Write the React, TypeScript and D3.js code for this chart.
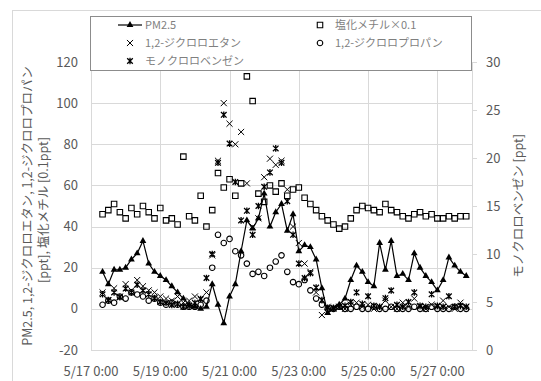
import { useEffect, useRef } from 'react';
import * as d3 from 'd3';

// 4-hourly samples, first one at 5/17 8:00
const startTime = new Date(2019, 4, 17, 8, 0);
const stepHours = 4;

const pm25 = [18, 12, 19, 19, 20, 24, 27, 33, 22, 18, 16, 14, 11, 8, 5, 2, 1, 0, 1, 12, 2, -7, 6, 12, 28, 43, 39, 44, 56, 40, 47, 51,
  38, 46, 28, 31, 30, 24, 10, -2, 0, 2, 5, 14, 21, 18, 13, 11, 32, 19, 33, 16, 17, 14, 27, 20, 16, 13, 9, 14, 25, 21, 18, 16];
const methylChloride = [46, 48, 51, 47, 44, 49, 46, 50, 47, 44, 49, 43, 44, 41, 74, 45, 43, 55, 40, 48, 66, 59, 63, 55, 61, 113, 101, 56, 52, 60, 57, 61,
  55, 58, 59, 54, 51, 48, 45, 43, 41, 39, 40, 44, 48, 50, 49, 48, 47, 51, 48, 47, 45, 44, 46, 47, 45, 46, 44, 44, 45, 44, 45, 45];
const dichloroethane = [8, 4, 10, 6, 12, 9, 14, 11, 9, 8, 6, 5, 4, 6, 3, 4, 6, 5, 8, 26, 72, 100, 90, 80, 86, 61, 40, 44, 64, 73, 70, 72,
  58, 40, 32, 22, 18, 8, -3, 1, 0, 1, 0, 2, 3, 1, 2, 0, 1, 4, 1, 0, 3, 1, 5, 1, 0, 2, 1, 4, 1, 0, 3, 1];
const dichloropropane = [2, 4, 3, 6, 5, 8, 7, 6, 4, 5, 3, 2, 3, 2, 1, 1, 1, 2, 4, 20, 36, 32, 34, 28, 26, 22, 17, 18, 16, 20, 23, 26,
  18, 13, 12, 14, 9, 5, 2, 0, 0, 1, 0, 0, 1, 0, 0, 1, 0, 0, 1, 0, 0, 0, 1, 0, 0, 1, 0, 0, 0, 1, 0, 0];
const chlorobenzene = [5.8, 5.2, 6.0, 5.5, 6.4, 6.0, 6.8, 6.2, 5.8, 5.4, 5.0, 4.9, 4.7, 4.8, 4.5, 4.6, 4.9, 5.3, 7.5, 10.0, 19.5, 24.5, 21.5, 17.5,
  13.5, 14.5, 12.0, 15.0, 17.0, 18.5, 21.0, 19.5, 15.5, 12.0, 9.0, 7.5, 8.0, 6.5, 5.2, 4.4, 4.4, 4.5, 4.6, 5.0, 6.0, 4.8, 5.6, 4.6,
  4.5, 5.4, 6.2, 4.7, 4.5, 5.0, 6.0, 4.6, 4.5, 5.8, 4.6, 4.5, 5.6, 4.5, 4.6, 4.5];

const leftTicks = [-20, 0, 20, 40, 60, 80, 100, 120];
const rightTicks = [0, 5, 10, 15, 20, 25, 30];
const xTickDays = [17, 19, 21, 23, 25, 27];

const FONT = '"Noto Sans CJK JP", "Noto Sans", sans-serif';
const TEXT = '#595959';
const LEGEND_TEXT = '#7f7f7f';
const GRID = '#d9d9d9';

const starPath = 'M-2.8,-2.8L2.8,2.8M-2.8,2.8L2.8,-2.8M0,-3.3L0,3.3';

function App() {
  const ref = useRef<SVGSVGElement>(null);

  useEffect(() => {
    const svg = d3.select(ref.current);
    svg.selectAll('*').remove();

    const left = 91, right = 472, top = 62, bottom = 350;
    const times = pm25.map((_, i) => new Date(startTime.getTime() + i * stepHours * 3600 * 1000));

    const x = d3.scaleTime()
      .domain([new Date(2019, 4, 17), new Date(2019, 4, 28)])
      .range([left, right]);
    const y = d3.scaleLinear().domain([-20, 120]).range([bottom, top]);
    const y2 = d3.scaleLinear().domain([0, 30]).range([bottom, top]);

    // chart area frame
    svg.append('rect')
      .attr('x', 12.5).attr('y', 10.5).attr('width', 560).attr('height', 400)
      .attr('fill', 'white').attr('stroke', GRID);

    const g = svg.append('g').attr('font-family', FONT);

    // gridlines
    g.append('g').selectAll('line').data(leftTicks.filter((t) => t !== -20)).enter()
      .append('line')
      .attr('x1', left).attr('x2', right)
      .attr('y1', (d) => Math.round(y(d)) + 0.5).attr('y2', (d) => Math.round(y(d)) + 0.5)
      .attr('stroke', GRID);
    g.append('g').selectAll('line').data(xTickDays).enter()
      .append('line')
      .attr('x1', (d) => Math.round(x(new Date(2019, 4, d))) + 0.5)
      .attr('x2', (d) => Math.round(x(new Date(2019, 4, d))) + 0.5)
      .attr('y1', top).attr('y2', bottom)
      .attr('stroke', GRID);
    g.append('line').attr('x1', right + 0.5).attr('x2', right + 0.5).attr('y1', top).attr('y2', bottom).attr('stroke', GRID);
    g.append('line').attr('x1', left).attr('x2', right).attr('y1', bottom + 0.5).attr('y2', bottom + 0.5).attr('stroke', GRID);

    // left axis labels
    g.append('g').selectAll('text').data(leftTicks).enter()
      .append('text')
      .attr('x', 78).attr('y', (d) => y(d)).attr('dy', '0.35em')
      .attr('text-anchor', 'end').attr('font-size', 13).attr('fill', TEXT)
      .text((d) => d);

    // right axis ticks + labels
    g.append('g').selectAll('line').data(rightTicks).enter()
      .append('line')
      .attr('x1', right).attr('x2', right + 5)
      .attr('y1', (d) => Math.round(y2(d)) + 0.5).attr('y2', (d) => Math.round(y2(d)) + 0.5)
      .attr('stroke', GRID);
    g.append('g').selectAll('text').data(rightTicks).enter()
      .append('text')
      .attr('x', 486).attr('y', (d) => y2(d)).attr('dy', '0.35em')
      .attr('font-size', 13).attr('fill', TEXT)
      .text((d) => d);

    // x labels
    const fmt = d3.timeFormat('%-m/%-d %-H:%M');
    g.append('g').selectAll('text').data(xTickDays).enter()
      .append('text')
      .attr('x', (d) => x(new Date(2019, 4, d))).attr('y', 376)
      .attr('text-anchor', 'middle').attr('font-size', 13).attr('fill', TEXT)
      .text((d) => fmt(new Date(2019, 4, d)));

    // axis titles
    const cy = (top + bottom) / 2;
    g.append('text')
      .attr('transform', `translate(32,${cy}) rotate(-90)`)
      .attr('text-anchor', 'middle').attr('font-size', 12.5).attr('fill', TEXT)
      .text('PM2.5, 1,2-ジクロロエタン, 1,2-ジクロロプロパン');
    g.append('text')
      .attr('transform', `translate(48,${cy + 4}) rotate(-90)`)
      .attr('text-anchor', 'middle').attr('font-size', 12.5).attr('fill', TEXT)
      .text('[ppt], 塩化メチル [0.1ppt]');
    g.append('text')
      .attr('transform', `translate(523,${cy}) rotate(-90)`)
      .attr('text-anchor', 'middle').attr('font-size', 12.5).attr('fill', TEXT)
      .text('モノクロロベンゼン [ppt]');

    const plot = svg.append('g');
    const tri = d3.symbol(d3.symbolTriangle, 20)();
    const sq = d3.symbol(d3.symbolSquare, 30)();
    const circ = d3.symbol(d3.symbolCircle, 24)();
    const cross = d3.symbol(d3.symbolTimes, 26)();

    // PM2.5 line + markers
    const line = d3.line<number>().x((d, i) => x(times[i])).y((d) => y(d));
    plot.append('path').datum(pm25).attr('d', line).attr('fill', 'none').attr('stroke', 'black').attr('stroke-width', 1.2);
    plot.append('g').selectAll('path').data(pm25).enter()
      .append('path')
      .attr('transform', (d, i) => `translate(${x(times[i])},${y(d)})`)
      .attr('d', tri).attr('fill', 'black');

    plot.append('g').selectAll('path').data(methylChloride).enter()
      .append('path')
      .attr('transform', (d, i) => `translate(${x(times[i])},${y(d)})`)
      .attr('d', sq).attr('fill', 'none').attr('stroke', 'black').attr('stroke-width', 1.1);

    plot.append('g').selectAll('path').data(dichloroethane).enter()
      .append('path')
      .attr('transform', (d, i) => `translate(${x(times[i])},${y(d)})`)
      .attr('d', cross).attr('fill', 'none').attr('stroke', 'black').attr('stroke-width', 1);

    plot.append('g').selectAll('path').data(dichloropropane).enter()
      .append('path')
      .attr('transform', (d, i) => `translate(${x(times[i])},${y(d)})`)
      .attr('d', circ).attr('fill', 'none').attr('stroke', 'black').attr('stroke-width', 1.1);

    plot.append('g').selectAll('path').data(chlorobenzene).enter()
      .append('path')
      .attr('transform', (d, i) => `translate(${x(times[i])},${y2(d)})`)
      .attr('d', starPath).attr('fill', 'none').attr('stroke', 'black').attr('stroke-width', 1.3);

    // legend
    const lg = svg.append('g').attr('font-family', FONT);
    lg.append('rect').attr('x', 90.5).attr('y', 16.5).attr('width', 381).attr('height', 54)
      .attr('fill', 'white').attr('stroke', '#8c8c8c');
    const items = [
      { label: 'PM2.5', mx: 130, my: 25, kind: 'line' },
      { label: '塩化メチル×0.1', mx: 320, my: 25, kind: 'square' },
      { label: '1,2-ジクロロエタン', mx: 130, my: 43, kind: 'x' },
      { label: '1,2-ジクロロプロパン', mx: 320, my: 43, kind: 'circle' },
      { label: 'モノクロロベンゼン', mx: 130, my: 61, kind: 'star' },
    ];
    items.forEach((it) => {
      const m = lg.append('g').attr('transform', `translate(${it.mx},${it.my})`);
      if (it.kind === 'line') {
        m.append('line').attr('x1', -12).attr('x2', 12).attr('stroke', 'black').attr('stroke-width', 1.2);
        m.append('path').attr('d', tri).attr('fill', 'black');
      } else if (it.kind === 'square') {
        m.append('path').attr('d', sq).attr('fill', 'none').attr('stroke', 'black').attr('stroke-width', 1.1);
      } else if (it.kind === 'x') {
        m.append('path').attr('d', cross).attr('fill', 'none').attr('stroke', 'black');
      } else if (it.kind === 'circle') {
        m.append('path').attr('d', circ).attr('fill', 'none').attr('stroke', 'black').attr('stroke-width', 1.1);
      } else {
        m.append('path').attr('d', starPath).attr('fill', 'none').attr('stroke', 'black').attr('stroke-width', 1.3);
      }
      lg.append('text')
        .attr('x', it.mx + 15).attr('y', it.my).attr('dy', '0.35em')
        .attr('font-size', 11).attr('fill', LEGEND_TEXT)
        .text(it.label);
    });
  }, []);

  return (
    <svg ref={ref} width={541} height={381} style={{ position: 'absolute', left: 0, top: 0, background: 'white' }} />
  );
}

export default App;
